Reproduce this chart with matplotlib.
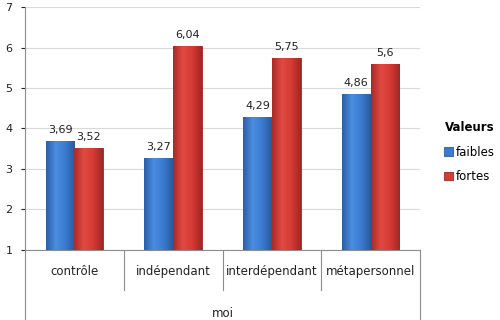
import matplotlib.pyplot as plt
from matplotlib.colors import LinearSegmentedColormap
import numpy as np

categories = ['contrôle', 'indépendant', 'interdépendant', 'métapersonnel']
faibles = [3.69, 3.27, 4.29, 4.86]
fortes = [3.52, 6.04, 5.75, 5.6]
series_names = ['faibles', 'fortes']
legend_title = 'Valeurs'
group_label = 'moi'

blue = '#3b7bd0'
red = '#d63a34'

fig = plt.figure(figsize=(5, 3.2), dpi=100)
ax = fig.add_axes([0.05, 0.219, 0.79, 0.759])

x = np.arange(len(categories))
w = 0.29
b1 = ax.bar(x - w / 2, np.array(faibles) - 1, w, bottom=1, color=blue,
            edgecolor='#2a5b9e', linewidth=0.6, label=series_names[0], zorder=3)
b2 = ax.bar(x + w / 2, np.array(fortes) - 1, w, bottom=1, color=red,
            edgecolor='#9e2622', linewidth=0.6, label=series_names[1], zorder=3)

# shaded look on each bar (darker edges, lighter middle)
cm_blue = LinearSegmentedColormap.from_list('b', ['#2c5fa8', '#4a8ee0', '#3b7bd0', '#2a5a9f'])
cm_red = LinearSegmentedColormap.from_list('r', ['#a82a26', '#e04a42', '#d63a34', '#9f2824'])
grad = np.linspace(0, 1, 64).reshape(1, -1)
for bars, cm in [(b1, cm_blue), (b2, cm_red)]:
    for bar in bars:
        x0, y0 = bar.get_x(), bar.get_y()
        im = ax.imshow(grad, cmap=cm, aspect='auto', zorder=3.5,
                       extent=[x0, x0 + bar.get_width(), y0, y0 + bar.get_height()])
        im.set_clip_path(bar)

def fmt(v):
    return ('%g' % v).replace('.', ',')

for xs, vals in [(x - w / 2, faibles), (x + w / 2, fortes)]:
    for xi, v in zip(xs, vals):
        ax.text(xi, v + 0.15, fmt(v), ha='center', va='bottom',
                fontsize=8, color='#222222')

ax.set_xlim(-0.5, len(categories) - 0.5)
ax.set_ylim(1, 7)
ax.set_yticks(range(1, 8))
ax.tick_params(axis='y', labelsize=8, length=3, pad=6, colors='#222222')
ax.set_xticks([])
ax.grid(axis='y', color='#d9d9d9', linewidth=0.8, zorder=0)
for s in ['top', 'right']:
    ax.spines[s].set_visible(False)
ax.spines['left'].set_color('#8c8c8c')
ax.spines['bottom'].set_color('#8c8c8c')

# category axis below the plot
trans = ax.get_xaxis_transform()
ax.plot([-0.5, -0.5], [0, -0.29], color='#8c8c8c', lw=0.8, transform=trans, clip_on=False)
ax.plot([3.5, 3.5], [0, -0.29], color='#8c8c8c', lw=0.8, transform=trans, clip_on=False)
for xi in [0.5, 1.5, 2.5]:
    ax.plot([xi, xi], [0, -0.165], color='#8c8c8c', lw=0.8, transform=trans, clip_on=False)
for xi, c in zip(x, categories):
    ax.text(xi, -0.09, c, ha='center', va='center', fontsize=8.5,
            color='#222222', transform=trans)
ax.text(1.5, -0.26, group_label, ha='center', va='center', fontsize=8.5,
        color='#222222', transform=trans)

leg = ax.legend(handles=[b1, b2], labels=series_names, title=legend_title,
                loc='center left', bbox_to_anchor=(1.035, 0.403), frameon=False,
                fontsize=8.5, handlelength=0.7, handleheight=0.7,
                handletextpad=0.3, labelspacing=1.0, alignment='left')
leg.get_title().set_fontweight('bold')
leg.get_title().set_fontsize(8.5)

fig.savefig('out.png', dpi=100)
